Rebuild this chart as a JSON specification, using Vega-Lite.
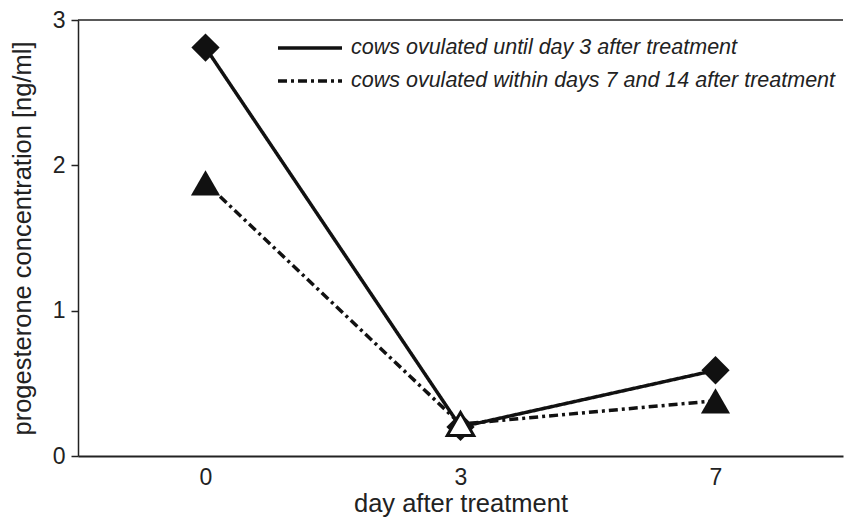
{
  "$schema": "https://vega.github.io/schema/vega-lite/v6.json",
  "width": 765,
  "height": 436,
  "autosize": "none",
  "padding": {"left": 78, "top": 20, "right": 1, "bottom": 61},
  "background": "white",
  "config": {
    "font": "Liberation Sans",
    "view": {"stroke": null},
    "axis": {
      "domainColor": "#222",
      "tickColor": "#222",
      "labelColor": "#222",
      "titleColor": "#222",
      "labelFontSize": 23,
      "titleFontSize": 25.5,
      "titleFontWeight": "normal",
      "grid": false
    }
  },
  "data": {
    "values": [
      {"day": "0", "value": 2.81, "series": "cows ovulated until day 3 after treatment"},
      {"day": "3", "value": 0.2, "series": "cows ovulated until day 3 after treatment"},
      {"day": "7", "value": 0.59, "series": "cows ovulated until day 3 after treatment"},
      {"day": "0", "value": 1.88, "series": "cows ovulated within days 7 and 14 after treatment"},
      {"day": "3", "value": 0.22, "series": "cows ovulated within days 7 and 14 after treatment"},
      {"day": "7", "value": 0.38, "series": "cows ovulated within days 7 and 14 after treatment"}
    ]
  },
  "encoding": {
    "x": {
      "field": "day",
      "type": "ordinal",
      "scale": {"type": "point", "padding": 0.5},
      "axis": {
        "title": "day after treatment",
        "labelAngle": 0,
        "ticks": false,
        "labelPadding": 10,
        "labelDx": 5,
        "titlePadding": 2,
        "domainWidth": 2
      }
    },
    "y": {
      "field": "value",
      "type": "quantitative",
      "scale": {"domain": [0, 3], "nice": false},
      "axis": {
        "title": "progesterone concentration [ng/ml]",
        "values": [0, 1, 2, 3],
        "tickSize": 7,
        "tickWidth": 1.5,
        "domainWidth": 1.5,
        "labelPadding": 6,
        "titlePadding": 17
      }
    }
  },
  "layer": [
    {
      "data": {"values": [{"top": 3}]},
      "mark": {"type": "rule", "color": "#222", "strokeWidth": 1.5},
      "encoding": {
        "x": null,
        "y": {"field": "top", "type": "quantitative"}
      }
    },
    {
      "mark": {"type": "line", "color": "#111", "strokeWidth": 3.5},
      "encoding": {
        "strokeDash": {
          "field": "series",
          "type": "nominal",
          "scale": {
            "domain": ["cows ovulated until day 3 after treatment", "cows ovulated within days 7 and 14 after treatment"],
            "range": [[1, 0], [9, 4, 3, 4]]
          },
          "legend": {
            "title": null,
            "orient": "none",
            "legendX": 198,
            "legendY": 17,
            "symbolType": "stroke",
            "symbolSize": 4096,
            "symbolStrokeWidth": 3.5,
            "symbolStrokeColor": "#111",
            "labelFontSize": 21.5,
            "labelFontStyle": "italic",
            "labelColor": "#222",
            "labelOffset": 7,
            "labelLimit": 700,
            "clipHeight": 22,
            "rowPadding": 11
          }
        }
      }
    },
    {
      "transform": [{"filter": "datum.series === 'cows ovulated until day 3 after treatment'"}],
      "mark": {"type": "point", "shape": "diamond", "filled": true, "size": 800, "color": "#111", "opacity": 1}
    },
    {
      "transform": [{"filter": "datum.series === 'cows ovulated within days 7 and 14 after treatment' && datum.day !== '3'"}],
      "mark": {"type": "point", "shape": "triangle-up", "filled": true, "size": 850, "color": "#111", "opacity": 1}
    },
    {
      "transform": [{"filter": "datum.series === 'cows ovulated within days 7 and 14 after treatment' && datum.day === '3'"}],
      "mark": {"type": "point", "shape": "triangle-up", "filled": false, "size": 700, "fill": "white", "fillOpacity": 1, "stroke": "#111", "strokeWidth": 3, "opacity": 1}
    }
  ]
}
